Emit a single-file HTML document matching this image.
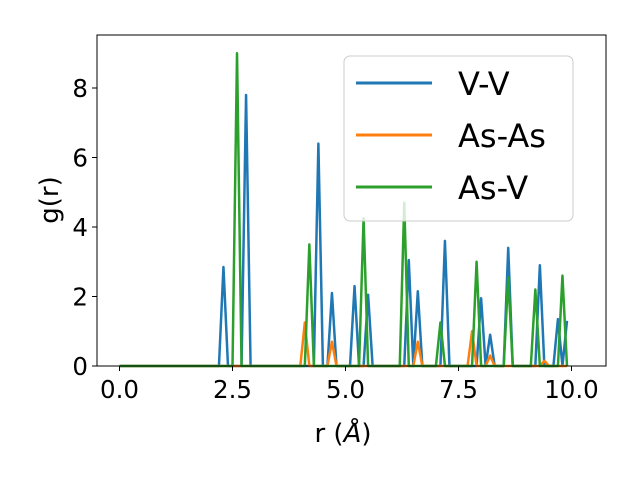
<!DOCTYPE html>
<html><head><meta charset="utf-8"><style>body{margin:0;background:#fff}svg{display:block;font-family:"DejaVu Sans","Liberation Sans",sans-serif}</style></head>
<body>
<svg id="c" width="640" height="480"></svg>
<script>
const rStep = 0.1;
const nPoints = 100;
const vvPeaks = [[2.3,2.85],[2.8,7.8],[4.4,6.4],[4.7,2.1],[5.2,2.3],[5.5,2.05],[6.4,3.05],[6.6,2.15],[7.2,3.6],[8.0,1.95],[8.2,0.9],[8.6,3.4],[9.3,2.9],[9.7,1.35],[9.9,1.3]];
const asasPeaks = [[4.1,1.25],[4.7,0.7],[6.6,0.7],[7.8,1.0],[8.2,0.3],[9.4,0.15]];
const asvPeaks = [[2.6,9.0],[4.2,3.5],[5.4,4.25],[6.3,4.7],[7.1,1.25],[7.9,3.0],[8.6,2.55],[9.2,2.2],[9.8,2.6]];
const xTicks = [0,2.5,5,7.5,10];
const xTickLabels = ["0.0","2.5","5.0","7.5","10.0"];
const yTicks = [0,2,4,6,8];
const ns="http://www.w3.org/2000/svg";
const svg=document.getElementById('c');
const L=97,R=606,T=35,B=366;
const X=v=>119.5+v*45.2, Y=v=>366-v*34.75;
function el(t,a,p){const e=document.createElementNS(ns,t);for(const k in a)e.setAttribute(k,a[k]);(p||svg).appendChild(e);return e;}
function series(peaks){const ys=new Array(nPoints).fill(0);peaks.forEach(([r,v])=>{ys[Math.round(r/rStep)]=v;});return ys;}
const list=[["vv",vvPeaks,"#1f77b4","V-V"],["asas",asasPeaks,"#ff7f0e","As-As"],["asv",asvPeaks,"#2ca02c","As-V"]];
list.forEach(([id,p,c])=>{const ys=series(p);const d=ys.map((v,i)=>(i?'L':'M')+X(i*rStep).toFixed(2)+' '+Y(v).toFixed(2)).join(' ');
const e=el('path',{d:d,fill:'none',stroke:c,'stroke-width':2.5,'stroke-linejoin':'round'});

});
const fr=el('rect',{x:L,y:T,width:R-L,height:B-T,fill:'none',stroke:'#000','stroke-width':1});


xTicks.forEach((v,i)=>{el('line',{x1:X(v),x2:X(v),y1:B,y2:B+5,stroke:'#000'});
const t=el('text',{x:X(v),y:B+32,'text-anchor':'middle','font-size':24.5});t.textContent=xTickLabels[i];

});
yTicks.forEach(v=>{el('line',{x1:L-5,x2:L,y1:Y(v),y2:Y(v),stroke:'#000'});
const t=el('text',{x:L-9,y:Y(v)+9,'text-anchor':'end','font-size':24.5});t.textContent=v;

});
const xl=el('text',{x:343,y:442,'text-anchor':'middle','font-size':26});xl.innerHTML='r (<tspan font-style="italic">Å</tspan>)';


const yl=el('text',{x:0,y:0,'text-anchor':'middle','font-size':26,transform:'translate(58,200) rotate(-90)'});yl.textContent='g(r)';


const lg=el('g',{});


el('rect',{x:344,y:56,width:229,height:165,rx:6,fill:'#fff','fill-opacity':0.8,stroke:'#ccc'},lg);
list.forEach(([id,p,c,name],i)=>{const y=83+i*52;
el('line',{x1:356,x2:432,y1:y,y2:y,stroke:c,'stroke-width':3},lg);
const t=el('text',{x:458,y:y+12,'font-size':32},lg);t.textContent=name;

});
</script>
</body></html>
